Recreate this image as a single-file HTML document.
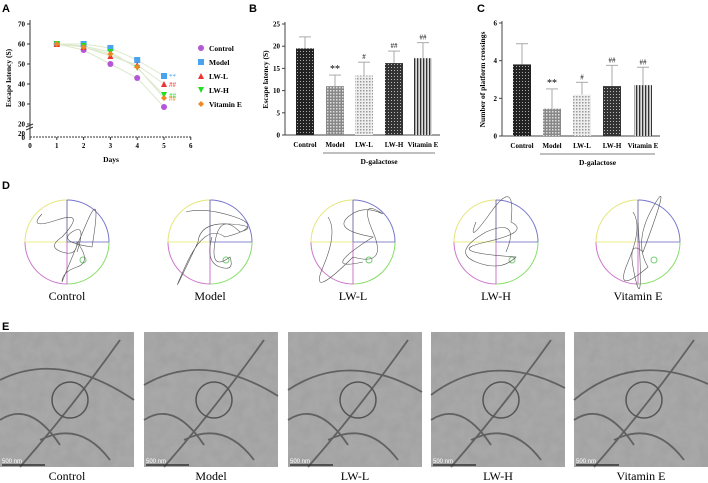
<!DOCTYPE html>
<html><head><meta charset="utf-8"><style>
body{margin:0;background:#fff;width:708px;height:483px;overflow:hidden;font-family:"Liberation Serif",serif}
svg{position:absolute;left:0;top:0}
</style></head><body>
<svg id="fig" width="708" height="483" viewBox="0 0 708 483">
<defs>
<pattern id="p1" width="3" height="3" patternUnits="userSpaceOnUse"><rect width="3" height="3" fill="#222"/><rect width="1" height="1" fill="#aaa"/></pattern>
<pattern id="p2" width="3" height="3" patternUnits="userSpaceOnUse"><rect width="3" height="3" fill="#888"/><rect width="1.5" height="1.5" fill="#ddd"/></pattern>
<pattern id="p3" width="3" height="3" patternUnits="userSpaceOnUse"><rect width="3" height="3" fill="#eee"/><rect width="1.5" height="1.5" fill="#999"/></pattern>
<pattern id="p4" width="3" height="3" patternUnits="userSpaceOnUse"><rect width="3" height="3" fill="#333"/><rect x="1" y="1" width="1" height="1" fill="#bbb"/></pattern>
<pattern id="p5" width="3" height="3" patternUnits="userSpaceOnUse"><rect width="3" height="3" fill="#ddd"/><rect width="1.3" height="3" fill="#333"/></pattern>
<filter id="tex" x="0" y="0" width="1" height="1" filterUnits="objectBoundingBox"><feTurbulence type="fractalNoise" baseFrequency="0.09" numOctaves="3" seed="4"/><feColorMatrix values="0 0 0 0 0.35  0 0 0 0 0.35  0 0 0 0 0.35  0 0 0 -1.6 1.1"/></filter>
</defs>
<g font-family="Liberation Sans, sans-serif" font-weight="bold" font-size="11">
<text x="2" y="12">A</text>
<text x="249" y="12">B</text>
<text x="477" y="12">C</text>
<text x="2" y="189">D</text>
<text x="2" y="330">E</text>
</g>
<g id="gA"></g><g id="gB"></g><g id="gC"></g><g id="gD"></g><g id="gE"></g>
</svg>
<script>
// Panel A data
const days=[1,2,3,4,5];
const ctrlA=[60,57,50,43,28.5];
const modelA=[60,60,58,52,44];
const lwlA=[60,58.5,54,49.5,40];
const lwhA=[60,59,56,48,34.5];
const vitA=[60,58.5,55,48.5,33];
const seriesNames=["Control","Model","LW-L","LW-H","Vitamin E"];
const seriesColors=["#b456d8","#4aa3ee","#ee3333","#22dd22","#ee8822"];
const sigA=["","**","##","##","##"];
// Panel B data
const barCats=["Control","Model","LW-L","LW-H","Vitamin E"];
const escB=[19.5,11,13.4,16.2,17.3];
const escBerr=[2.6,2.5,3,2.7,3.5];
const sigB=["","**","#","##","##"];
const ticksB=[0,5,10,15,20,25];
// Panel C data
const crossC=[3.8,1.45,2.2,2.65,2.7];
const crossCerr=[1.1,1.05,0.65,1.1,0.95];
const sigC=["","**","#","##","##"];
const ticksC=[0,2,4,6];
const groups=["Control","Model","LW-L","LW-H","Vitamin E"];

const NS="http://www.w3.org/2000/svg";
function mk(p,t,a,txt){const e=document.createElementNS(NS,t);for(const k in a)e.setAttribute(k,a[k]);if(txt!==undefined)e.textContent=txt;p.appendChild(e);return e;}
const F="Liberation Serif, serif";

// ---- Panel A
const gA=document.getElementById('gA');
const ax=d=>30+d*26.8, ay=v=>v>=20?124-(v-20)*2:137-(v/20)*8;
mk(gA,'line',{x1:30,y1:20,x2:30,y2:137,stroke:'#333'});
mk(gA,'line',{x1:30,y1:137,x2:192,y2:137,stroke:'#333','stroke-dasharray':'2,1'});
[20,30,40,50,60,70].forEach(v=>{const y=ay(v);mk(gA,'line',{x1:27,y1:y,x2:30,y2:y,stroke:'#333'});const t=mk(gA,'text',{x:25,y:y+2.5,'font-size':7,'font-weight':'bold','text-anchor':'end','font-family':F},v);});
mk(gA,'text',{x:25,y:136,'font-size':7,'font-weight':'bold','text-anchor':'end','font-family':F},'20');
mk(gA,'text',{x:25,y:140,'font-size':7,'font-weight':'bold','text-anchor':'end','font-family':F},'0');
mk(gA,'line',{x1:26,y1:127,x2:33,y2:124,stroke:'#333'});mk(gA,'line',{x1:26,y1:130,x2:33,y2:127,stroke:'#333'});
[0,1,2,3,4,5,6].forEach(d=>{const x=ax(d);mk(gA,'line',{x1:x,y1:137,x2:x,y2:140,stroke:'#333'});const t=mk(gA,'text',{x:x,y:148,'font-size':7,'font-weight':'bold','text-anchor':'middle','font-family':F},d);});
let t=mk(gA,'text',{x:111,y:162,'font-size':7.5,'font-weight':'bold','text-anchor':'middle','font-family':F},'Days');

t=mk(gA,'text',{transform:'translate(11,78) rotate(-90)','font-size':7.5,'font-weight':'bold','text-anchor':'middle','font-family':F},'Escape latency (S)');

const allA=[ctrlA,modelA,lwlA,lwhA,vitA];
allA.forEach((s,i)=>{
  const pts=days.map((d,j)=>ax(d)+','+ay(s[j])).join(' ');
  const l=mk(gA,'polyline',{points:pts,fill:'none',stroke:'#dde8cc','stroke-width':1});
  
});
function marker(g,i,x,y,s){const c=seriesColors[i];
  if(i===0)return mk(g,'circle',{cx:x,cy:y,r:s,fill:c});
  if(i===1)return mk(g,'rect',{x:x-s,y:y-s,width:2*s,height:2*s,fill:c});
  if(i===2)return mk(g,'polygon',{points:`${x},${y-s} ${x-s},${y+s} ${x+s},${y+s}`,fill:c});
  if(i===3)return mk(g,'polygon',{points:`${x},${y+s} ${x-s},${y-s} ${x+s},${y-s}`,fill:c});
  return mk(g,'polygon',{points:`${x},${y-s} ${x+s},${y} ${x},${y+s} ${x-s},${y}`,fill:c});}
allA.forEach((s,i)=>{days.forEach((d,j)=>{const m=marker(gA,i,ax(d),ay(s[j]),3);});
  if(sigA[i]){const x=ax(5)+5;mk(gA,'text',{x:x,y:ay(s[4])+3,'font-size':7,fill:seriesColors[i],'font-family':F},sigA[i]);}});
seriesNames.forEach((n,i)=>{const y=48+i*14;const m=marker(gA,i,201,y,3);
  const tt=mk(gA,'text',{x:209,y:y+3,'font-size':7.5,'font-weight':'bold','font-family':F},n);});

// ---- Bar panels
function barPanel(g,ax0,y0,yTop,maxV,ticks,vals,errs,sig,centers,pats,title,tag){
  const ys=v=>y0-(v/maxV)*(y0-yTop);
  mk(g,'line',{x1:ax0,y1:yTop-2,x2:ax0,y2:y0,stroke:'#444'});
  mk(g,'line',{x1:ax0,y1:y0,x2:centers[4]+17,y2:y0,stroke:'#444'});
  ticks.forEach(v=>{const y=ys(v);mk(g,'line',{x1:ax0-3,y1:y,x2:ax0,y2:y,stroke:'#444'});const tt=mk(g,'text',{x:ax0-5,y:y+2.5,'font-size':7,'font-weight':'bold','text-anchor':'end','font-family':F},v);});
  vals.forEach((v,i)=>{const cx=centers[i];
    const e=ys(v+errs[i]);mk(g,'line',{x1:cx,y1:ys(v),x2:cx,y2:e,stroke:'#aaa'});mk(g,'line',{x1:cx-6,y1:e,x2:cx+6,y2:e,stroke:'#aaa'});
    const r=mk(g,'rect',{x:cx-9,y:ys(v),width:18,height:y0-ys(v),fill:'url(#'+pats[i]+')'});
    
    if(sig[i])mk(g,'text',{x:cx,y:e-3,'font-size':sig[i]=='**'?10:7,'text-anchor':'middle','font-family':F},sig[i]);
    const lb=mk(g,'text',{x:cx,y:y0+12,'font-size':7,'font-weight':'bold','text-anchor':'middle','font-family':F},groups[i]);});
  mk(g,'line',{x1:centers[1]-12,y1:y0+18,x2:centers[4]+12,y2:y0+18,stroke:'#555','stroke-width':0.7});
  const dg=mk(g,'text',{x:(centers[1]+centers[4])/2,y:y0+29,'font-size':7.5,'font-weight':'bold','text-anchor':'middle','font-family':F},'D-galactose');
  const yt=mk(g,'text',{transform:`translate(${ax0-17},${(y0+yTop)/2}) rotate(-90)`,'font-size':7.5,'font-weight':'bold','text-anchor':'middle','font-family':F},title);
}
const pats=['p1','p2','p3','p4','p5'];
barPanel(document.getElementById('gB'),285,135,24,25,ticksB,escB,escBerr,sigB,[305,335,364,394,423],pats,'Escape latency (S)','b');
barPanel(document.getElementById('gC'),502,136,23,6,ticksC,crossC,crossCerr,sigC,[522,552,582,612,643],pats,'Number of platform crossings','c');

// ---- Panel D
const gD=document.getElementById('gD');
const dCenters=[67,210,353,496,638];
const paths=[
 "M-25,-28 Q-40,-12 -10,-22 T-5,-5 Q-20,5 -5,10 T10,0 Q25,20 10,25 T-5,40 Q5,15 20,-20 T25,5 Q-10,0 5,-10 T10,10",
 "M-24,-30 Q-5,-35 25,-25 T15,-5 Q-5,-20 -25,25 T-12,0 Q-10,-20 20,-18 T30,-10 Q10,-30 5,0 T20,15 Q25,30 10,25 T2,-5",
 "M-25,-25 Q-15,-10 -30,25 T0,15 Q35,25 20,-10 T30,-28 Q10,-38 -5,-25 T20,-5 Q-35,30 10,20",
 "M-20,-20 Q-30,5 -5,-30 T15,-20 Q35,-10 -10,0 T20,15 Q5,30 -20,20 T-10,-10 Q25,-25 10,10",
 "M-5,-30 Q5,-15 -10,20 T10,25 Q-5,0 15,-35 T5,10 Q-12,-5 -3,35 T0,-20"];
dCenters.forEach((cx,i)=>{const cy=242,r=42;const g=mk(gD,'g',{});
  
  mk(g,'path',{d:`M${cx-r},${cy} A${r},${r} 0 0 1 ${cx},${cy-r}`,fill:'none',stroke:'#e5e57a'});
  mk(g,'path',{d:`M${cx},${cy-r} A${r},${r} 0 0 1 ${cx+r},${cy}`,fill:'none',stroke:'#7777cc'});
  mk(g,'path',{d:`M${cx+r},${cy} A${r},${r} 0 0 1 ${cx},${cy+r}`,fill:'none',stroke:'#88dd66'});
  mk(g,'path',{d:`M${cx},${cy+r} A${r},${r} 0 0 1 ${cx-r},${cy}`,fill:'none',stroke:'#cc77cc'});
  mk(g,'line',{x1:cx-r,y1:cy,x2:cx,y2:cy,stroke:'#eeee88'});mk(g,'line',{x1:cx,y1:cy,x2:cx+r,y2:cy,stroke:'#8888cc'});
  mk(g,'line',{x1:cx,y1:cy-r,x2:cx,y2:cy,stroke:'#7777aa'});mk(g,'line',{x1:cx,y1:cy,x2:cx,y2:cy+r,stroke:'#cc77cc'});
  mk(g,'circle',{cx:cx+16,cy:cy+18,r:3,fill:'none',stroke:'#77cc77'});
  mk(g,'path',{d:paths[i],transform:`translate(${cx},${cy})`,fill:'none',stroke:'#555','stroke-width':0.6});
  const lb=mk(gD,'text',{x:cx,y:300,'font-size':12,'text-anchor':'middle','font-family':F},groups[i]);});

// ---- Panel E
const gE=document.getElementById('gE');
const eX=[0,144,288,431,574];
eX.forEach((x,i)=>{const g=mk(gE,'g',{});
  mk(g,'rect',{x:x,y:332,width:134,height:135,fill:'#a8a8a8'});
  mk(g,'rect',{x:x,y:332,width:134,height:135,fill:'#fff',filter:'url(#tex)'});
  mk(g,'path',{d:`M${x} ${380+i*5} Q${x+60} ${350} ${x+134} ${400-i*4} M${x+20} 467 Q${x+70} ${410} ${x+120} 340 M${x+40} ${440} Q${x+80} ${420} ${x+110} 460 M${x} ${420} Q${x+30} ${400} ${x+60} ${445}`,fill:'none',stroke:'#444','stroke-width':1.8,opacity:0.7});
  mk(g,'circle',{cx:x+70,cy:400,r:18,fill:'none',stroke:'#555','stroke-width':1.5});
  mk(g,'line',{x1:x+2,y1:465,x2:x+45,y2:465,stroke:'#333','stroke-width':1.5});
  mk(g,'text',{x:x+2,y:463,'font-size':6,fill:'#fff','font-family':'Liberation Sans, sans-serif'},'500 nm');
  const lb=mk(gE,'text',{x:x+67,y:480,'font-size':12,'text-anchor':'middle','font-family':F},groups[i]);});
</script>
</body></html>
